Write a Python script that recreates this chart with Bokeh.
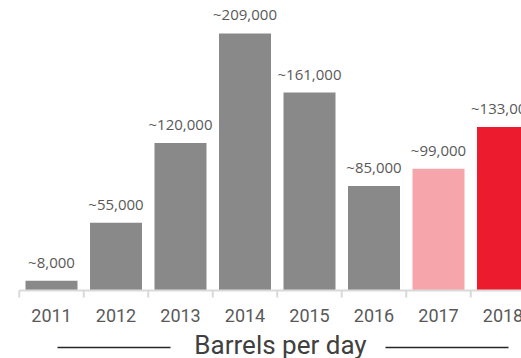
from bokeh.plotting import figure
from bokeh.models import Range1d, ColumnDataSource
from bokeh.core.properties import value
from bokeh.embed import file_html
from bokeh.resources import INLINE

# ---- data ----
years = ["2011", "2012", "2013", "2014", "2015", "2016", "2017", "2018"]
barrels = [8000, 55000, 120000, 209000, 161000, 85000, 99000, 133000]
bar_colors = ["#898989", "#898989", "#898989", "#898989", "#898989", "#898989",
              "#f6a5ab", "#ec1c2e"]
axis_title = "Barrels per day"

# ---- layout helpers ----
W, H = 521, 358
PX_PER_CAT = 64.5
FIRST_CENTER = 51.0
BASE_PX = 290.0
PX_PER_UNIT_Y = 1.2297 / 1000.0

x0 = -FIRST_CENTER / PX_PER_CAT
x1 = (W - FIRST_CENTER) / PX_PER_CAT
y_top = BASE_PX / PX_PER_UNIT_Y
y_bot = -(H - BASE_PX) / PX_PER_UNIT_Y


def py(px):
    """pixels below baseline -> data y"""
    return -px / PX_PER_UNIT_Y


def pxx(px):
    return (px - FIRST_CENTER) / PX_PER_CAT


idx = list(range(len(years)))
labels = ["~{:,}".format(v) for v in barrels]

src = ColumnDataSource(dict(x=idx, top=barrels, color=bar_colors,
                            label=labels, year=years,
                            base=[0] * len(years)))

p = figure(width=W, height=H, output_backend="svg", toolbar_location=None,
           x_range=Range1d(x0, x1), y_range=Range1d(y_bot, y_top),
           x_axis_type=None, y_axis_type=None, min_border=0,
           outline_line_color=None, background_fill_color="white",
           border_fill_color="white")
p.grid.visible = False

# bars
p.vbar(x="x", top="top", bottom=0, width=52 / PX_PER_CAT, fill_color="color",
       line_color=None, source=src)

# value labels
p.text(x="x", y="top", text="label", source=src, text_align="center",
       text_baseline="alphabetic", y_offset=-19,
       text_font=value("Open Sans"), text_font_size="15px",
       text_color="#595959")

# category axis line + boundary ticks
n = len(years)
bounds = [i - 0.5 for i in range(n + 1)]
p.segment(x0=[-0.5], y0=[0], x1=[n - 0.5], y1=[0], line_color="#d9d9d9",
          line_width=2)
p.segment(x0=bounds, y0=[0] * len(bounds), x1=bounds,
          y1=[py(7)] * len(bounds), line_color="#d9d9d9", line_width=2)

# year labels
p.text(x="x", y="base", text="year", source=src, text_align="center",
       text_baseline="alphabetic", y_offset=25,
       text_font=value("Roboto"), text_font_size="18px",
       text_color="#595959")

# axis title with side rules
p.text(x=[pxx(280)], y=[0], text=[axis_title], text_align="center",
       text_baseline="alphabetic", y_offset=54,
       text_font=value("Roboto"), text_font_size="26px",
       text_color="#404040")
p.segment(x0=[pxx(57), pxx(385)], y0=[py(347 - BASE_PX)] * 2,
          x1=[pxx(170), pxx(508)], y1=[py(347 - BASE_PX)] * 2,
          line_color="#262626", line_width=1.3)

open("out.html", "w").write(file_html(p, INLINE))
